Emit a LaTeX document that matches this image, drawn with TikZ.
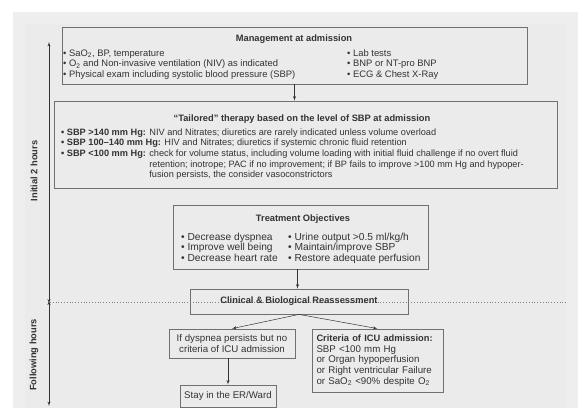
\documentclass[tikz,border=0pt]{standalone}
\usepackage{fontspec}
\setmainfont{Liberation Sans}
\usepackage{tikz}
\usetikzlibrary{arrows}
\usetikzlibrary{positioning}
\definecolor{panelout}{HTML}{EEEEEE}
\definecolor{panelin}{HTML}{EBEBEB}
\definecolor{framegray}{HTML}{707070}
\definecolor{inkgray}{HTML}{333333}
\tikzset{box/.style = {draw=framegray, line width=0.8, inner sep=0, text=inkgray,
                       font=\fontsize{9.7}{10.6}\selectfont}}
\tikzset{txt/.style = {inner sep=0, text=inkgray, font=\fontsize{9.2}{10.7}\selectfont}}
\tikzset{head/.style = {inner sep=0, text=inkgray, font=\fontsize{9.3}{10.6}\selectfont\bfseries}}
\tikzset{link/.style = {->, draw=inkgray, line width=0.5}}
\newcommand{\bul}{\textbullet\ }
\newcommand{\lines}[1]{\begin{tabular}[t]{@{}l@{}}#1\end{tabular}}
\newcommand{\lowlabel}{\textbf{\bul SBP <100 mm Hg:} }

\begin{document}
\begin{tikzpicture}[x=1pt, y=-1pt, >=latex']
    \useasboundingbox (0, 0) rectangle (580, 408);
    \fill [panelout] (13, 12) rectangle (578, 408);
    \fill [panelin] (25, 24) rectangle (566, 408);

    \node [box, minimum width=465, minimum height=57] (mgmt) at (294.5, 55.5) {};
    \node [head, anchor=base] (mgmt-title) at (294, 41) {Management at admission};
    \node [txt, anchor=base west, font=\fontsize{9.4}{10.6}\selectfont] (mgmt-left) at (63, 56)
      {\lines{\bul SaO\textsubscript{2}, BP, temperature\\
       \bul O\textsubscript{2} and Non-invasive ventilation (NIV) as indicated\\
       \bul Physical exam including systolic blood pressure (SBP)}};
    \node [txt, anchor=base west, font=\fontsize{9.4}{10.6}\selectfont] (mgmt-right) at (347, 56)
      {\lines{\bul Lab tests\\
       \bul BNP or NT-pro BNP\\
       \bul ECG \& Chest X-Ray}};

    \node [box, minimum width=503, minimum height=87] (tailored) at (305.5, 144.5) {};
    \node [head, anchor=base] (tailored-title) at (302, 121)
      {“Tailored” therapy based on the level of SBP at admission};
    \node [txt, anchor=base west] (tailored-list) at (61, 135)
      {\lines{\textbf{\bul SBP >140 mm Hg:} NIV and Nitrates; diuretics are rarely indicated unless volume overload\\
       \textbf{\bul SBP 100–140 mm Hg:} HIV and Nitrates; diuretics if systemic chronic fluid retention\\
       \lowlabel check for volume status, including volume loading with initial fluid challenge if no overt fluid\\
       \hphantom{\lowlabel}retention; inotrope; PAC if no improvement; if BP fails to improve >100 mm Hg and hypoper-\\
       \hphantom{\lowlabel}fusion persists, the consider vasoconstrictors}};

    \node [box, minimum width=255, minimum height=64] (goals) at (300.5, 237) {};
    \node [head, anchor=base] (goals-title) at (303, 221) {Treatment Objectives};
    \node [txt, anchor=base west, font=\fontsize{10.2}{10.6}\selectfont] (goals-left) at (181, 240)
      {\lines{\bul Decrease dyspnea\\
       \bul Improve well being\\
       \bul Decrease heart rate}};
    \node [txt, anchor=base west, font=\fontsize{10.2}{10.6}\selectfont] (goals-right) at (288, 240)
      {\lines{\bul Urine output >0.5 ml/kg/h\\
       \bul Maintain/improve SBP\\
       \bul Restore adequate perfusion}};

    \draw [gray, dotted, line width=0.8] (50, 302) -- (566, 302);
    \node [box, minimum width=218, minimum height=25, font=\fontsize{9.3}{10.6}\selectfont\bfseries] (reassess) at (299, 301.5)
      {Clinical \& Biological Reassessment};

    \node [box, minimum width=126, minimum height=29, align=center] (dyspnea) at (232, 343.5)
      {If dyspnea persists but no\\criteria of ICU admission};
    \node [box, minimum width=96, minimum height=22] (stay) at (228, 396) {Stay in the ER/Ward};
    \node [box, minimum width=131, minimum height=63, text width=122, align=left] (icu) at (377.5, 360.5)
      {{\fontsize{9.3}{10.6}\selectfont\bfseries Criteria of ICU admission:}\\
       SBP <100 mm Hg\\
       or Organ hypoperfusion\\
       or Right ventricular Failure\\
       or SaO\textsubscript{2} <90\% despite O\textsubscript{2}};

    \draw [link] (mgmt.south) -- (mgmt.south |- tailored.north);
    \draw [link] ([xshift=-3]goals.south) -- ([xshift=-3]goals.south |- reassess.north);
    \draw [link] (reassess.south) -- (dyspnea.north);
    \draw [link] (reassess.south) -- (icu.north);
    \draw [link] (stay.north |- dyspnea.south) -- (stay.north);

    \coordinate (t-top) at (49, 42);
    \coordinate (t-mid) at (49, 302);
    \coordinate (t-bot) at (49, 406);
    \draw [<->, draw=inkgray, line width=0.5] (t-top) -- ([yshift=-1.5]t-mid);
    \draw [<->, draw=inkgray, line width=0.5] ([yshift=1.5]t-mid) -- (t-bot);
    \node [head, rotate=90] (first-hours) at (34, 171) {Initial 2 hours};
    \node [head, rotate=90] (later-hours) at (34, 355) {Following hours};
\end{tikzpicture}
\end{document}
